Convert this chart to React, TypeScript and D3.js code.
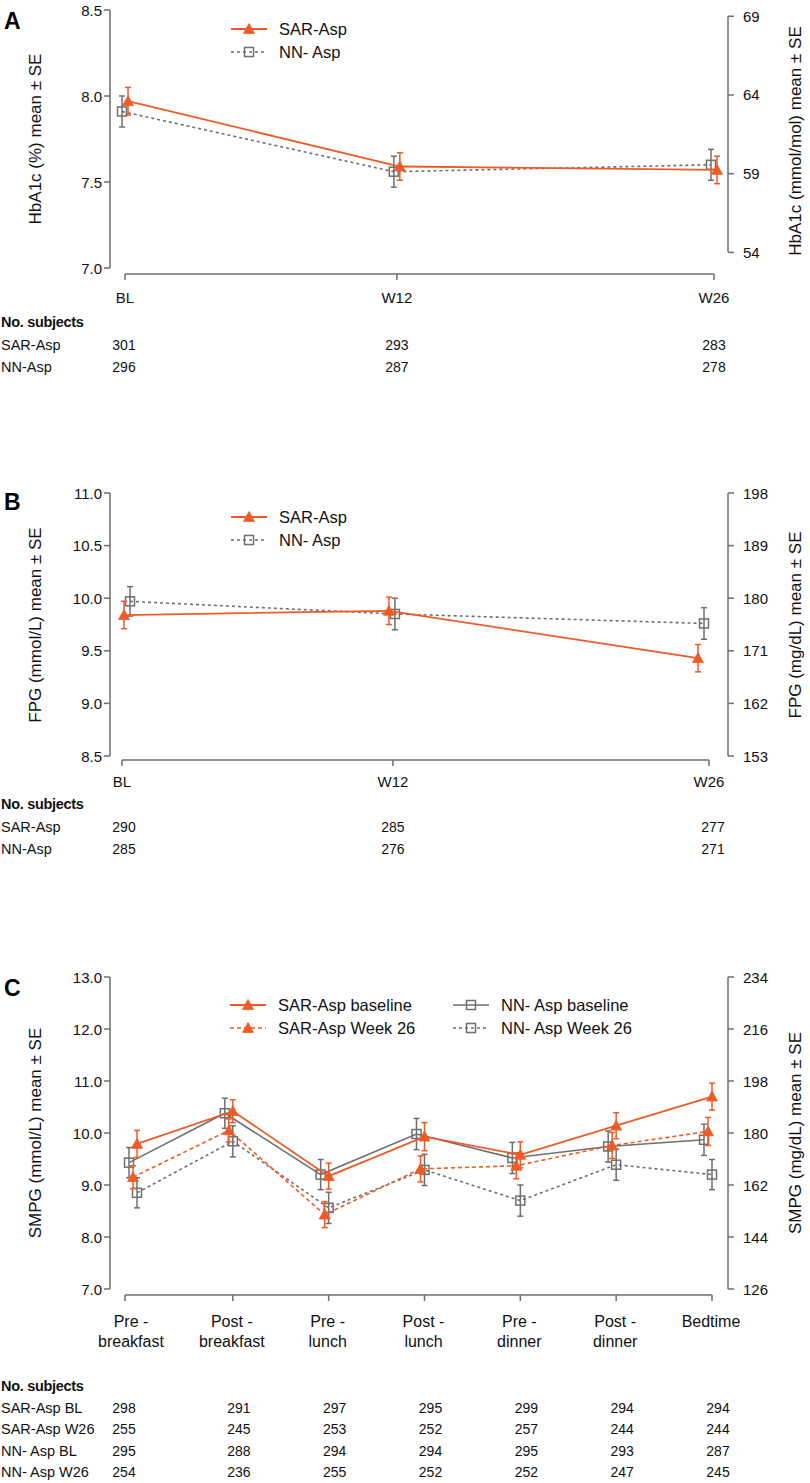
import React from 'react';
import * as d3 from 'd3';

const ORANGE = '#EF5B25';
const GRAY = '#6f6f6f';
const AXIS = '#6e6e6e';
const FONT = 'Liberation Sans, Arial, Helvetica, sans-serif';

// ---------- Panel A: HbA1c ----------
const weeks = [0, 12, 26];
const weekLabels = ['BL', 'W12', 'W26'];
const hba1cSar = [7.97, 7.59, 7.57];
const hba1cSarSE = [0.08, 0.08, 0.08];
const hba1cNN = [7.91, 7.56, 7.6];
const hba1cNNSE = [0.09, 0.09, 0.09];
const hba1cTicks = [7.0, 7.5, 8.0, 8.5];
const hba1cMmolTicks = [54, 59, 64, 69];
const subjASar = [301, 293, 283];
const subjANN = [296, 287, 278];

// ---------- Panel B: FPG ----------
const fpgSar = [9.84, 9.88, 9.43];
const fpgSarSE = [0.13, 0.13, 0.13];
const fpgNN = [9.97, 9.85, 9.76];
const fpgNNSE = [0.14, 0.15, 0.15];
const fpgTicks = [8.5, 9.0, 9.5, 10.0, 10.5, 11.0];
const fpgMgTicks = [153, 162, 171, 180, 189, 198];
const subjBSar = [290, 285, 277];
const subjBNN = [285, 276, 271];

// ---------- Panel C: SMPG ----------
const timepoints = ['preB', 'postB', 'preL', 'postL', 'preD', 'postD', 'bed'];
const timepointLabels = [
  ['Pre -', 'breakfast'],
  ['Post -', 'breakfast'],
  ['Pre -', 'lunch'],
  ['Post -', 'lunch'],
  ['Pre -', 'dinner'],
  ['Post -', 'dinner'],
  ['Bedtime'],
];
const smpgSarBL = [9.79, 10.42, 9.17, 9.93, 9.58, 10.14, 10.7];
const smpgSarBLSE = [0.26, 0.22, 0.25, 0.27, 0.25, 0.25, 0.26];
const smpgSarW26 = [9.15, 10.05, 8.43, 9.31, 9.37, 9.76, 10.03];
const smpgSarW26SE = [0.22, 0.22, 0.25, 0.25, 0.25, 0.25, 0.27];
const smpgNNBL = [9.43, 10.38, 9.2, 9.98, 9.52, 9.74, 9.87];
const smpgNNBLSE = [0.29, 0.29, 0.29, 0.3, 0.3, 0.3, 0.3];
const smpgNNW26 = [8.85, 9.84, 8.56, 9.29, 8.7, 9.39, 9.2];
const smpgNNW26SE = [0.29, 0.3, 0.3, 0.3, 0.3, 0.3, 0.29];
const smpgTicks = [7.0, 8.0, 9.0, 10.0, 11.0, 12.0, 13.0];
const smpgMgTicks = [126, 144, 162, 180, 198, 216, 234];
const subjCRows = ['SAR-Asp BL', 'SAR-Asp W26', 'NN- Asp BL', 'NN- Asp W26'];
const subjC = [
  [298, 291, 297, 295, 299, 294, 294],
  [255, 245, 253, 252, 257, 244, 244],
  [295, 288, 294, 294, 295, 293, 287],
  [254, 236, 255, 252, 252, 247, 245],
];

type Marker = 'tri' | 'sq';

function MarkerShape({ x, y, type, color }: { x: number; y: number; type: Marker; color: string }) {
  if (type === 'tri') {
    const s = 5.5;
    return (
      <path
        d={`M${x},${y - s}L${x + s},${y + s * 0.8}L${x - s},${y + s * 0.8}Z`}
        fill={color}
        stroke={color}
        strokeWidth={0.8}
      />
    );
  }
  const h = 4.5;
  return <rect x={x - h} y={y - h} width={2 * h} height={2 * h} fill="none" stroke={color} strokeWidth={1.5} />;
}

function Series({
  xs, ys, se, y, color, dash, marker, width = 1.8,
}: {
  xs: number[]; ys: number[]; se: number[]; y: d3.ScaleLinear<number, number>;
  color: string; dash?: string; marker: Marker; width?: number;
}) {
  const pts: [number, number][] = xs.map((x, i) => [x, y(ys[i])]);
  const line = d3.line()(pts) || '';
  return (
    <g>
      <path d={line} fill="none" stroke={color} strokeWidth={width} strokeDasharray={dash} />
      {xs.map((x, i) => {
        const top = y(ys[i] + se[i]);
        const bot = y(ys[i] - se[i]);
        return (
          <g key={i}>
            <line x1={x} x2={x} y1={top} y2={bot} stroke={color} strokeWidth={1.5} />
            <line x1={x - 3} x2={x + 3} y1={top} y2={top} stroke={color} strokeWidth={1.5} />
            <line x1={x - 3} x2={x + 3} y1={bot} y2={bot} stroke={color} strokeWidth={1.5} />
          </g>
        );
      })}
      {xs.map((x, i) => (
        <MarkerShape key={'m' + i} x={x} y={y(ys[i])} type={marker} color={color} />
      ))}
    </g>
  );
}

function LegendItem({ x, y, label, color, dash, marker, width = 1.8 }: {
  x: number; y: number; label: string; color: string; dash?: string; marker: Marker; width?: number;
}) {
  return (
    <g>
      <line x1={x} x2={x + 36} y1={y} y2={y} stroke={color} strokeWidth={width} strokeDasharray={dash} />
      <MarkerShape x={x + 18} y={y} type={marker} color={color} />
      <text x={x + 48} y={y} dominantBaseline="central" fontSize={16.5} fontFamily={FONT} fill="#111">
        {label}
      </text>
    </g>
  );
}

function LeftAxis({ y, ticks, x, fmt }: { y: d3.ScaleLinear<number, number>; ticks: number[]; x: number; fmt: (v: number) => string }) {
  const [d0, d1] = y.domain();
  return (
    <g>
      <line x1={x} x2={x} y1={y(d0)} y2={y(d1)} stroke={AXIS} strokeWidth={1.5} />
      {ticks.map((t) => (
        <g key={t}>
          <line x1={x - 6} x2={x} y1={y(t)} y2={y(t)} stroke={AXIS} strokeWidth={1.5} />
          <text x={x - 8} y={y(t)} textAnchor="end" dominantBaseline="central" fontSize={15} fontFamily={FONT} fill="#111">
            {fmt(t)}
          </text>
        </g>
      ))}
    </g>
  );
}

function RightAxis({ y, ticks, x }: { y: (v: number) => number; ticks: number[]; x: number }) {
  const ys = ticks.map(y);
  return (
    <g>
      <line x1={x} x2={x} y1={d3.min(ys)} y2={d3.max(ys)} stroke={AXIS} strokeWidth={1.5} />
      {ticks.map((t) => (
        <g key={t}>
          <line x1={x} x2={x + 6} y1={y(t)} y2={y(t)} stroke={AXIS} strokeWidth={1.5} />
          <text x={x + 15} y={y(t)} dominantBaseline="central" fontSize={15} fontFamily={FONT} fill="#111">
            {t}
          </text>
        </g>
      ))}
    </g>
  );
}

function YTitle({ x, y, text }: { x: number; y: number; text: string }) {
  return (
    <text transform={`translate(${x},${y}) rotate(-90)`} textAnchor="middle" dominantBaseline="central" fontSize={17} fontFamily={FONT} fill="#111">
      {text}
    </text>
  );
}

function PanelLabel({ y, text }: { y: number; text: string }) {
  return (
    <text x={4} y={y} fontSize={23} fontWeight="bold" fontFamily={FONT} fill="#000">
      {text}
    </text>
  );
}

function SubjectsTable({ top, rows, values, cols, step = 22.5 }: { top: number; rows: string[]; values: number[][]; cols: number[]; step?: number }) {
  return (
    <g fontFamily={FONT} fill="#111">
      <text x={1} y={top} dominantBaseline="central" fontSize={14.5} fontWeight="bold" letterSpacing={-0.3}>
        No. subjects
      </text>
      {rows.map((r, ri) => (
        <g key={r}>
          <text x={1} y={top + (ri + 1) * step} dominantBaseline="central" fontSize={14.5}>
            {r}
          </text>
          {values[ri].map((v, ci) => (
            <text key={ci} x={cols[ci]} y={top + (ri + 1) * step} textAnchor="middle" dominantBaseline="central" fontSize={14}>
              {v}
            </text>
          ))}
        </g>
      ))}
    </g>
  );
}

export default function App() {
  const LX = 110;
  const RX = 728;

  // Panel A scales
  const yA = d3.scaleLinear().domain([7.0, 8.5]).range([268, 10]);
  const xA = d3.scaleLinear().domain([0, 26]).range([125, 714]);
  const mmolToPct = (m: number) => m / 10.929 + 2.15;
  const xAxA = weeks.map((w) => xA(w));

  // Panel B scales
  const yB = d3.scaleLinear().domain([8.5, 11.0]).range([756, 493]);
  const xB = d3.scaleLinear().domain([0, 26]).range([122, 709]);
  const xBd = d3.scaleLinear().domain([0, 26]).range([127, 701]);

  // Panel C scales
  const yC = d3.scaleLinear().domain([7.0, 13.0]).range([1289, 977]);
  const xC = d3.scalePoint<string>().domain(timepoints).range([133, 708]);
  const tickC = timepoints.map((t) => (xC(t) as number) + 4);
  const colC = timepoints.map((t, i) => (i === 0 ? 124 : (xC(t) as number) + 10));

  const fmt1 = (v: number) => v.toFixed(1);

  return (
    <svg width={810} height={1483} style={{ position: 'absolute', left: 0, top: 0, background: '#fff' }}>
      <rect width={810} height={1483} fill="#fff" />

      {/* ---------------- Panel A ---------------- */}
      <PanelLabel y={29} text="A" />
      <LeftAxis y={yA} ticks={hba1cTicks} x={LX} fmt={fmt1} />
      <RightAxis y={(m) => yA(mmolToPct(m))} ticks={hba1cMmolTicks} x={RX} />
      <YTitle x={35} y={139} text="HbA1c (%) mean ± SE" />
      <YTitle x={795} y={141} text="HbA1c (mmol/mol) mean ± SE" />
      <line x1={xA(0)} x2={xA(26)} y1={274} y2={274} stroke={AXIS} strokeWidth={1.5} />
      {weeks.map((w, i) => (
        <g key={w}>
          <line x1={xA(w)} x2={xA(w)} y1={274} y2={280} stroke={AXIS} strokeWidth={1.5} />
          <text x={xA(w)} y={297} textAnchor="middle" dominantBaseline="central" fontSize={15} fontFamily={FONT} fill="#111">
            {weekLabels[i]}
          </text>
        </g>
      ))}
      <Series xs={xAxA.map((x) => x - 3)} ys={hba1cNN} se={hba1cNNSE} y={yA} color={GRAY} dash="3,3" marker="sq" width={1.6} />
      <Series xs={xAxA.map((x) => x + 3)} ys={hba1cSar} se={hba1cSarSE} y={yA} color={ORANGE} marker="tri" />
      <LegendItem x={231} y={29} label="SAR-Asp" color={ORANGE} marker="tri" />
      <LegendItem x={231} y={52} label="NN- Asp" color={GRAY} dash="3,3" marker="sq" width={1.6} />
      <SubjectsTable top={322} rows={['SAR-Asp', 'NN-Asp']} values={[subjASar, subjANN]} cols={[124, xA(12), xA(26)]} />

      {/* ---------------- Panel B ---------------- */}
      <PanelLabel y={510} text="B" />
      <LeftAxis y={yB} ticks={fpgTicks} x={LX} fmt={fmt1} />
      <RightAxis y={(m) => yB(m / 18)} ticks={fpgMgTicks} x={RX} />
      <YTitle x={35} y={625} text="FPG (mmol/L) mean ± SE" />
      <YTitle x={795} y={625} text="FPG (mg/dL) mean ± SE" />
      <line x1={xB(0)} x2={xB(26)} y1={760} y2={760} stroke={AXIS} strokeWidth={1.5} />
      {weeks.map((w, i) => (
        <g key={w}>
          <line x1={xB(w)} x2={xB(w)} y1={760} y2={766} stroke={AXIS} strokeWidth={1.5} />
          <text x={xB(w)} y={781} textAnchor="middle" dominantBaseline="central" fontSize={15} fontFamily={FONT} fill="#111">
            {weekLabels[i]}
          </text>
        </g>
      ))}
      <Series xs={weeks.map((w) => xBd(w) + 3)} ys={fpgNN} se={fpgNNSE} y={yB} color={GRAY} dash="3,3" marker="sq" width={1.6} />
      <Series xs={weeks.map((w) => xBd(w) - 3)} ys={fpgSar} se={fpgSarSE} y={yB} color={ORANGE} marker="tri" />
      <LegendItem x={231} y={517} label="SAR-Asp" color={ORANGE} marker="tri" />
      <LegendItem x={231} y={540} label="NN- Asp" color={GRAY} dash="3,3" marker="sq" width={1.6} />
      <SubjectsTable top={804} rows={['SAR-Asp', 'NN-Asp']} values={[subjBSar, subjBNN]} cols={[124, xB(12), xB(26) + 4]} />

      {/* ---------------- Panel C ---------------- */}
      <PanelLabel y={996} text="C" />
      <LeftAxis y={yC} ticks={smpgTicks} x={LX} fmt={fmt1} />
      <RightAxis y={(m) => yC(m / 18)} ticks={smpgMgTicks} x={RX} />
      <YTitle x={35} y={1133} text="SMPG (mmol/L) mean ± SE" />
      <YTitle x={795} y={1133} text="SMPG (mg/dL) mean ± SE" />
      <line x1={125} x2={tickC[tickC.length - 1]} y1={1295} y2={1295} stroke={AXIS} strokeWidth={1.5} />
      {timepoints.map((t, i) => (
        <g key={t}>
          <line x1={i === 0 ? 125 : tickC[i]} x2={i === 0 ? 125 : tickC[i]} y1={1295} y2={1301} stroke={AXIS} strokeWidth={1.5} />
          {timepointLabels[i].map((s, li) => (
            <text key={li} x={(xC(t) as number) + (i === 0 ? -2 : 3)} y={1321 + li * 20} textAnchor="middle" dominantBaseline="central" fontSize={16} fontFamily={FONT} fill="#111">
              {s}
            </text>
          ))}
        </g>
      ))}
      <Series xs={timepoints.map((t) => (xC(t) as number) + 4)} ys={smpgNNW26} se={smpgNNW26SE} y={yC} color={GRAY} dash="3,3" marker="sq" width={1.6} />
      <Series xs={timepoints.map((t) => (xC(t) as number) - 4)} ys={smpgNNBL} se={smpgNNBLSE} y={yC} color={GRAY} marker="sq" width={1.6} />
      <Series xs={timepoints.map((t) => xC(t) as number)} ys={smpgSarW26} se={smpgSarW26SE} y={yC} color={ORANGE} dash="4,3" marker="tri" width={1.6} />
      <Series xs={timepoints.map((t) => (xC(t) as number) + 4)} ys={smpgSarBL} se={smpgSarBLSE} y={yC} color={ORANGE} marker="tri" />
      <LegendItem x={230} y={1005} label="SAR-Asp baseline" color={ORANGE} marker="tri" />
      <LegendItem x={230} y={1028} label="SAR-Asp Week 26" color={ORANGE} dash="4,3" marker="tri" width={1.6} />
      <LegendItem x={453} y={1005} label="NN- Asp baseline" color={GRAY} marker="sq" width={1.6} />
      <LegendItem x={453} y={1028} label="NN- Asp Week 26" color={GRAY} dash="3,3" marker="sq" width={1.6} />
      <SubjectsTable top={1386} rows={subjCRows} values={subjC} cols={colC} step={21.5} />
    </svg>
  );
}
